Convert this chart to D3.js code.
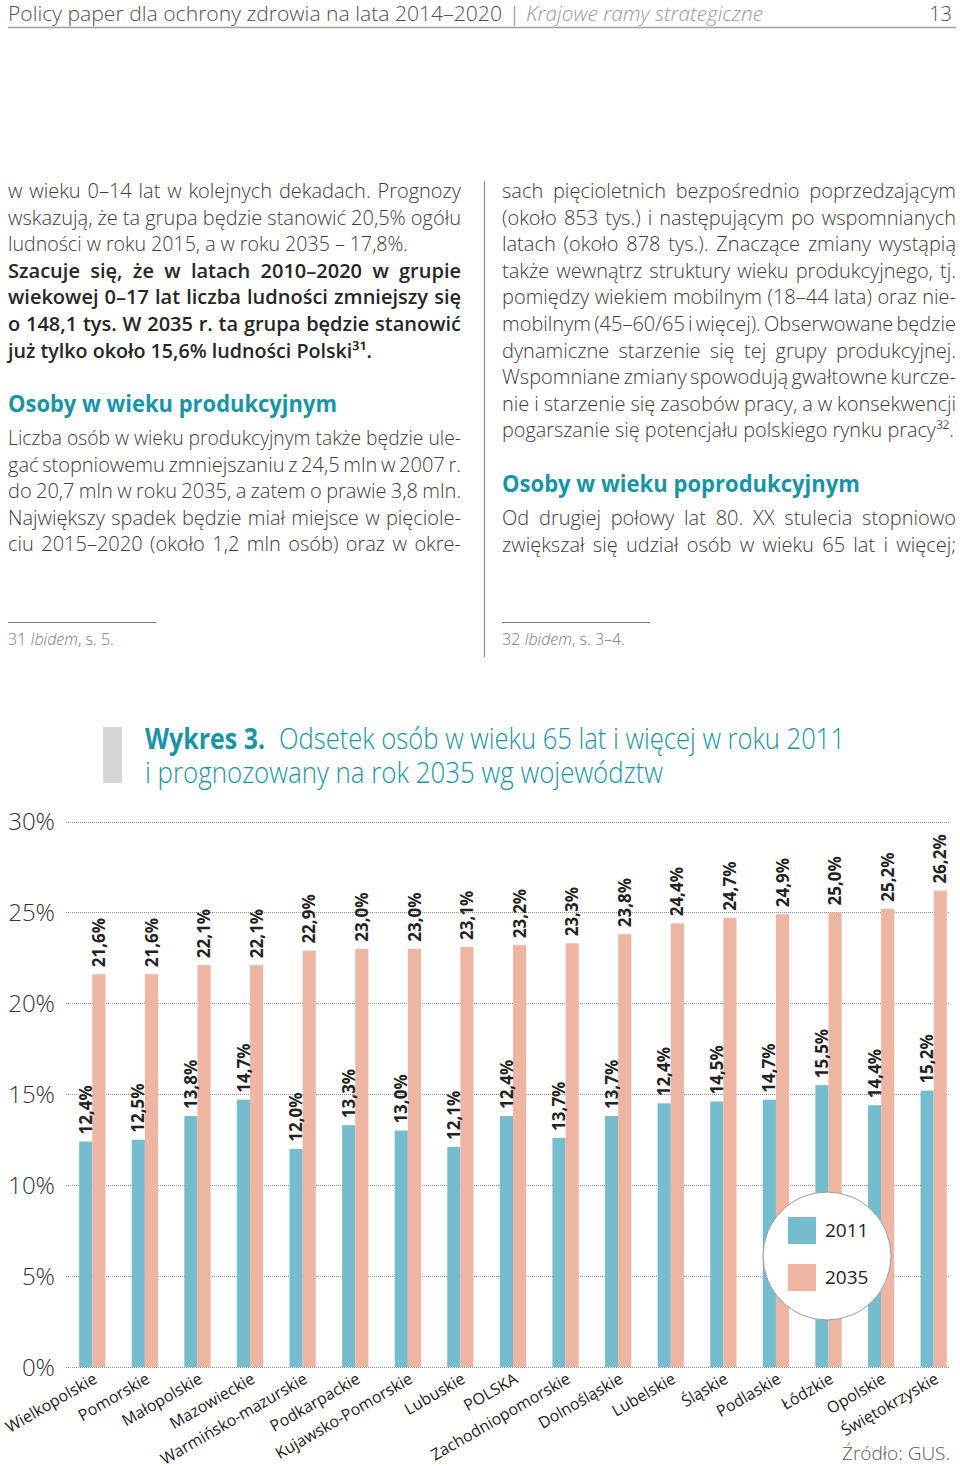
<!DOCTYPE html>
<html><head><meta charset="utf-8">
<script src="https://cdn.jsdelivr.net/npm/d3@7"></script>
<style>
body{margin:0;background:#fff;}
svg{display:block;font-family:"Open Sans","Noto Sans",sans-serif;}
</style>
</head><body><div id="chart"></div>
<script>
// ---------- chart data ----------
const categories = ["Wielkopolskie","Pomorskie","Małopolskie","Mazowieckie","Warmińsko-mazurskie","Podkarpackie","Kujawsko-Pomorskie","Lubuskie","POLSKA","Zachodniopomorskie","Dolnośląskie","Lubelskie","Śląskie","Podlaskie","Łódzkie","Opolskie","Świętokrzyskie"];
const series = ["2011","2035"];
const values2011 = [12.4,12.5,13.8,14.7,12.0,13.3,13.0,12.1,13.8,12.6,13.8,14.5,14.6,14.7,15.5,14.4,15.2];
const values2035 = [21.6,21.6,22.1,22.1,22.9,23.0,23.0,23.1,23.2,23.3,23.8,24.4,24.7,24.9,25.0,25.2,26.2];
const labels2011 = ["12,4%","12,5%","13,8%","14,7%","12,0%","13,3%","13,0%","12,1%","12,4%","13,7%","13,7%","12,4%","14,5%","14,7%","15,5%","14,4%","15,2%"];
const labels2035 = ["21,6%","21,6%","22,1%","22,1%","22,9%","23,0%","23,0%","23,1%","23,2%","23,3%","23,8%","24,4%","24,7%","24,9%","25,0%","25,2%","26,2%"];
const yTicks = [0,5,10,15,20,25,30];
const yTickLabels = ["0%","5%","10%","15%","20%","25%","30%"];
const colors = {"2011":"#75bccf","2035":"#eeb6a2"};

// ---------- page text ----------
const leftLines = [
  {t:"w wieku 0–14 lat w kolejnych dekadach. Prognozy", j:true},
  {t:"wskazują, że ta grupa będzie stanowić 20,5% ogółu", j:true},
  {t:"ludności w roku 2015, a w roku 2035 – 17,8%.", j:false, w:400},
  {t:"Szacuje się, że w latach 2010–2020 w grupie", j:true, b:true},
  {t:"wiekowej 0–17 lat liczba ludności zmniejszy się", j:true, b:true},
  {t:"o 148,1 tys. W 2035 r. ta grupa będzie stanowić", j:true, b:true},
  {t:"już tylko około 15,6% ludności Polski³¹.", j:false, b:true, w:364}
];
const leftLines2 = [
  {t:"Liczba osób w wieku produkcyjnym także będzie ule-", j:true},
  {t:"gać stopniowemu zmniejszaniu z 24,5 mln w 2007 r.", j:true},
  {t:"do 20,7 mln w roku 2035, a zatem o prawie 3,8 mln.", j:true},
  {t:"Największy spadek będzie miał miejsce w pięciole-", j:true},
  {t:"ciu 2015–2020 (około 1,2 mln osób) oraz w okre-", j:true}
];
const rightLines = [
  {t:"sach pięcioletnich bezpośrednio poprzedzającym", j:true},
  {t:"(około 853 tys.) i następującym po wspomnianych", j:true},
  {t:"latach (około 878 tys.). Znaczące zmiany wystąpią", j:true},
  {t:"także wewnątrz struktury wieku produkcyjnego, tj.", j:true},
  {t:"pomiędzy wiekiem mobilnym (18–44 lata) oraz nie-", j:true},
  {t:"mobilnym (45–60/65 i więcej). Obserwowane będzie", j:true},
  {t:"dynamiczne starzenie się tej grupy produkcyjnej.", j:true},
  {t:"Wspomniane zmiany spowodują gwałtowne kurcze-", j:true},
  {t:"nie i starzenie się zasobów pracy, a w konsekwencji", j:true},
  {t:"pogarszanie się potencjału polskiego rynku pracy³².", j:false, w:452}
];
const rightLines2 = [
  {t:"Od drugiej połowy lat 80. XX stulecia stopniowo", j:true},
  {t:"zwiększał się udział osób w wieku 65 lat i więcej;", j:true}
];

const W = 960, H = 1466;
const svg = d3.select("#chart").append("svg").attr("width", W).attr("height", H);

const BODY = 20, LH = 26.6, TEXTC = "#3c3c3c", TEAL = "#1795a7";

function placeLine(g, line, x, y, width){
  const t = g.append("text").attr("x", x).attr("y", y)
    .attr("font-size", BODY)
    .attr("font-weight", line.b ? 600 : 300)
    .attr("fill", line.b ? "#262626" : TEXTC);
  if(!line.j){
    t.text(line.t);
    if(line.w) t.attr("textLength", line.w).attr("lengthAdjust", "spacingAndGlyphs");
    return;
  }
  const words = line.t.split(" ");
  const spans = words.map(w => t.append("tspan").text(w));
  const widths = spans.map(s => s.node().getComputedTextLength());
  const total = d3.sum(widths);
  const gap = (width - total) / (words.length - 1);
  if(gap < 3){
    t.selectAll("tspan").remove();
    t.text(line.t).attr("textLength", width).attr("lengthAdjust", "spacingAndGlyphs");
    return;
  }
  let cx = x;
  spans.forEach((s, i) => { s.attr("x", cx); cx += widths[i] + gap; });
}

// ---------- header ----------
const head = svg.append("g").attr("font-size", 20).attr("font-weight", 300);
head.append("text").attr("x", 8).attr("y", 21).attr("fill", "#505050")
  .attr("textLength", 494).attr("lengthAdjust", "spacingAndGlyphs")
  .text("Policy paper dla ochrony zdrowia na lata 2014–2020");
head.append("text").attr("x", 509).attr("y", 21).attr("fill", "#777").text("|");
head.append("text").attr("x", 526).attr("y", 21).attr("fill", "#9a9a9a").attr("font-style", "italic")
  .attr("textLength", 237).attr("lengthAdjust", "spacingAndGlyphs")
  .text("Krajowe ramy strategiczne");
head.append("text").attr("x", 952).attr("y", 21).attr("fill", "#505050").attr("text-anchor", "end").text("13");
svg.append("line").attr("x1", 8).attr("x2", 956).attr("y1", 27.5).attr("y2", 27.5)
  .attr("stroke", "#a0a0a0").attr("stroke-width", 1.5);

// ---------- body columns ----------
const body = svg.append("g");
leftLines.forEach((l, i) => placeLine(body, l, 8, 198 + i * LH, 453));
body.append("text").attr("x", 8).attr("y", 412).attr("font-size", 23).attr("font-weight", 700)
  .attr("fill", TEAL).attr("textLength", 329).attr("lengthAdjust", "spacingAndGlyphs")
  .text("Osoby w wieku produkcyjnym");
leftLines2.forEach((l, i) => placeLine(body, l, 8, 445 + i * LH, 453));

rightLines.forEach((l, i) => placeLine(body, l, 502, 198 + i * LH, 454));
body.append("text").attr("x", 502).attr("y", 492).attr("font-size", 23).attr("font-weight", 700)
  .attr("fill", TEAL).attr("textLength", 358).attr("lengthAdjust", "spacingAndGlyphs")
  .text("Osoby w wieku poprodukcyjnym");
rightLines2.forEach((l, i) => placeLine(body, l, 502, 525 + i * LH, 454));

svg.append("line").attr("x1", 484.5).attr("x2", 484.5).attr("y1", 181).attr("y2", 657)
  .attr("stroke", "#8a8a8a").attr("stroke-width", 1.2);

// footnotes
[[8, "31", ", s. 5."], [502, "32", ", s. 3–4."]].forEach(([fx, num, rest]) => {
  svg.append("line").attr("x1", fx).attr("x2", fx + 148).attr("y1", 622.5).attr("y2", 622.5)
    .attr("stroke", "#777").attr("stroke-width", 1);
  const ft = svg.append("text").attr("x", fx).attr("y", 645).attr("font-size", 16)
    .attr("font-weight", 300).attr("fill", "#777");
  ft.append("tspan").text(num + " ");
  ft.append("tspan").attr("font-style", "italic").text("Ibidem");
  ft.append("tspan").text(rest);
});

// ---------- chart title ----------
svg.append("rect").attr("x", 103).attr("y", 727).attr("width", 19).attr("height", 56).attr("fill", "#d6d6d6");
svg.append("text").attr("x", 145).attr("y", 749).attr("font-size", 29).attr("font-weight", 700)
  .attr("fill", TEAL).attr("textLength", 120).attr("lengthAdjust", "spacingAndGlyphs").text("Wykres 3.");
svg.append("text").attr("x", 279).attr("y", 749).attr("font-size", 29).attr("font-weight", 300)
  .attr("fill", TEAL).attr("textLength", 566).attr("lengthAdjust", "spacingAndGlyphs")
  .text("Odsetek osób w wieku 65 lat i więcej w roku 2011");
svg.append("text").attr("x", 145).attr("y", 783).attr("font-size", 29).attr("font-weight", 300)
  .attr("fill", TEAL).attr("textLength", 518).attr("lengthAdjust", "spacingAndGlyphs")
  .text("i prognozowany na rok 2035 wg województw");

// ---------- chart ----------
const y = d3.scaleLinear().domain([0, 30]).range([1367, 821.5]);
const x0 = d3.scaleBand().domain(categories).range([66, 960]).paddingInner(0.5).paddingOuter(0.25);
const x1 = d3.scaleBand().domain(series).range([0, x0.bandwidth()]);

const grid = svg.append("g");
grid.selectAll("line").data(yTicks).join("line")
  .attr("x1", 66).attr("x2", 950)
  .attr("y1", d => Math.round(y(d)) + 0.5).attr("y2", d => Math.round(y(d)) + 0.5)
  .attr("stroke", "#8c8c8c").attr("stroke-width", 1).attr("stroke-dasharray", "1,1");
grid.selectAll("text").data(yTicks).join("text")
  .attr("x", 55).attr("y", d => y(d)).attr("dy", "0.36em").attr("text-anchor", "end")
  .attr("font-size", 24).attr("font-weight", 300).attr("fill", "#333")
  .text((d, i) => yTickLabels[i]);

const rows = categories.map((c, i) => ({
  cat: c,
  items: [
    {s: "2011", v: values2011[i], lab: labels2011[i]},
    {s: "2035", v: values2035[i], lab: labels2035[i]}
  ]
}));

const groups = svg.append("g").selectAll("g").data(rows).join("g")
  .attr("transform", d => `translate(${x0(d.cat)},0)`);
groups.selectAll("rect").data(d => d.items).join("rect")
  .attr("x", d => x1(d.s)).attr("width", x1.bandwidth())
  .attr("y", d => y(d.v)).attr("height", d => y(0) - y(d.v))
  .attr("fill", d => colors[d.s]);
groups.selectAll("text").data(d => d.items).join("text")
  .attr("transform", d => `translate(${x1(d.s) + x1.bandwidth() / 2},${y(d.v) - 7}) rotate(-90)`)
  .attr("dy", "0.36em").attr("font-size", 17).attr("font-weight", 700).attr("fill", "#222")
  .text(d => d.lab);

// category labels
svg.append("g").selectAll("text").data(categories).join("text")
  .attr("transform", d => `translate(${x0(d) + x0.bandwidth() / 2 + 6},${1382}) rotate(-30)`)
  .attr("text-anchor", "end").attr("font-size", 16).attr("fill", "#222")
  .text(d => d);

// legend
const lg = svg.append("g");
lg.append("circle").attr("cx", 827).attr("cy", 1256).attr("r", 64)
  .attr("fill", "#fff").attr("stroke", "#9a9a9a").attr("stroke-width", 1);
series.forEach((s, i) => {
  lg.append("rect").attr("x", 788).attr("y", 1217 + i * 47).attr("width", 28).attr("height", 27).attr("fill", colors[s]);
  lg.append("text").attr("x", 825).attr("y", 1237 + i * 47).attr("font-size", 19).attr("fill", "#222").text(s);
});

// source
svg.append("text").attr("x", 950).attr("y", 1460).attr("text-anchor", "end")
  .attr("font-size", 19).attr("font-weight", 300).attr("fill", "#555").text("Źródło: GUS.");
</script>
</body></html>
